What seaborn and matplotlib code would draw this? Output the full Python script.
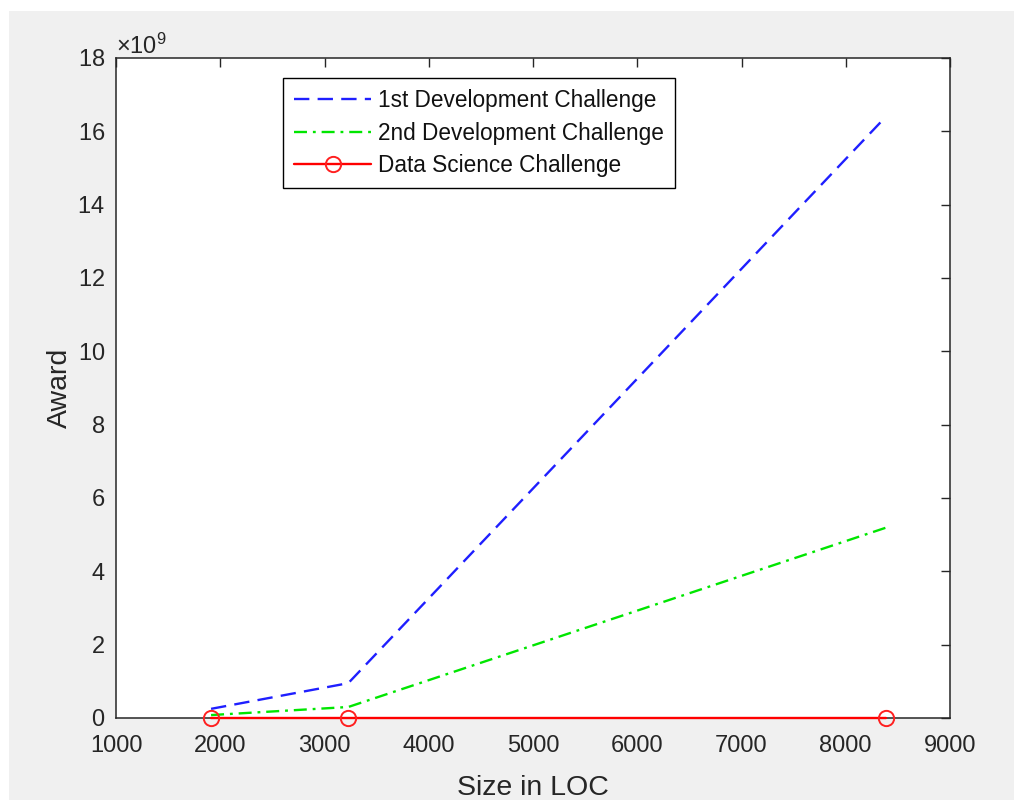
import matplotlib
matplotlib.use("Agg")
import matplotlib.pyplot as plt
from matplotlib.patches import Rectangle
from matplotlib.ticker import ScalarFormatter, MultipleLocator
import seaborn as sns
import pandas as pd

# ---- data ----
size_loc = [1912, 3228, 8385]
dev1_award = [0.25e9, 0.95e9, 16.4e9]
dev2_award = [0.08e9, 0.30e9, 5.19e9]
ds_award = [0.0, 0.0, 0.0]
series_names = ["1st Development Challenge", "2nd Development Challenge", "Data Science Challenge"]

sns.set_theme(style="white")
plt.rcParams["font.family"] = ["Liberation Sans", "DejaVu Sans"]
plt.rcParams["mathtext.fontset"] = "custom"
plt.rcParams["mathtext.rm"] = "Liberation Sans"
plt.rcParams["mathtext.it"] = "Liberation Sans"

W, H = 1014, 800
fig = plt.figure(figsize=(W / 100, H / 100), dpi=100, facecolor="white")
fig.patches.append(Rectangle((9 / W, 0), 1 - 9 / W, (H - 11) / H, transform=fig.transFigure,
                             facecolor="#f0f0f0", edgecolor="none", zorder=-10))

ax = fig.add_axes([116 / W, (H - 718) / H, (950 - 116) / W, (718 - 58) / H])
ax.set_facecolor("white")

dark = "#262626"
df1 = pd.DataFrame({"x": size_loc, "y": dev1_award})
df2 = pd.DataFrame({"x": size_loc, "y": dev2_award})
df3 = pd.DataFrame({"x": size_loc, "y": ds_award})

sns.lineplot(data=df1, x="x", y="y", ax=ax, color="#1f1fff", lw=1.7, label=series_names[0])
ax.lines[-1].set_dashes([6.5, 3.5])
sns.lineplot(data=df2, x="x", y="y", ax=ax, color="#00e600", lw=1.7, label=series_names[1])
ax.lines[-1].set_dashes([5.5, 2.5, 1.2, 2.5])
sns.lineplot(data=df3, x="x", y="y", ax=ax, color="#ff0000", lw=1.7, label=series_names[2],
             marker="o", markersize=11, markerfacecolor="none", markeredgecolor="#ff2020",
             markeredgewidth=1.4)
for ln in ax.lines:
    ln.set_clip_on(False)
    ln.set_zorder(3)

ax.set_xlim(1000, 9000)
ax.set_ylim(0, 18e9)
ax.xaxis.set_major_locator(MultipleLocator(1000))
ax.yaxis.set_major_locator(MultipleLocator(2e9))
fmt = ScalarFormatter(useMathText=True)
fmt.set_powerlimits((9, 9))
ax.yaxis.set_major_formatter(fmt)
ax.yaxis.get_offset_text().set_fontsize(17)
ax.yaxis.get_offset_text().set_color(dark)

ax.tick_params(axis="both", which="major", direction="in", length=6.5, width=1.0,
               colors=dark, labelsize=17, top=True, right=True, pad=8)
ax.tick_params(axis="x", pad=12)
for sp in ax.spines.values():
    sp.set_visible(True)
    sp.set_color(dark)
    sp.set_linewidth(1.1)

ax.set_xlabel("Size in LOC", fontsize=20.5, color=dark, labelpad=13)
ax.set_ylabel("Award", fontsize=20.5, color=dark, labelpad=3)

leg = ax.legend(loc="upper left", bbox_to_anchor=(0.200, 0.970), fontsize=16.3,
                frameon=True, fancybox=False, edgecolor="black", facecolor="white",
                framealpha=1, handlelength=3.4, handletextpad=0.3, borderpad=0.5,
                labelspacing=0.42, borderaxespad=0)
leg.get_frame().set_linewidth(1.0)
for t in leg.get_texts():
    t.set_color("#111111")

fig.savefig("out.png", dpi=100, facecolor=fig.get_facecolor())
